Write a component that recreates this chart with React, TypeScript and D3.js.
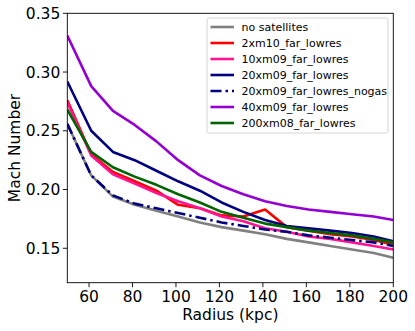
import React from "react";
import * as d3 from "d3";

const radii = [50, 61, 71, 81, 91, 101, 111, 121, 131, 141, 151, 161, 171, 181, 191, 200];

const noSatellites = [0.256, 0.212, 0.194, 0.187, 0.182, 0.177, 0.172, 0.168, 0.165, 0.162, 0.158, 0.155, 0.152, 0.149, 0.146, 0.142];
const m2xm10 = [0.276, 0.230, 0.215, 0.207, 0.199, 0.187, 0.184, 0.178, 0.177, 0.183, 0.168, 0.165, 0.162, 0.160, 0.157, 0.153];
const m10xm09 = [0.274, 0.229, 0.213, 0.205, 0.197, 0.190, 0.184, 0.177, 0.173, 0.167, 0.164, 0.160, 0.158, 0.155, 0.152, 0.149];
const m20xm09 = [0.292, 0.250, 0.232, 0.225, 0.216, 0.207, 0.199, 0.189, 0.181, 0.174, 0.169, 0.167, 0.165, 0.163, 0.160, 0.156];
const m20xm09nogas = [0.256, 0.212, 0.195, 0.188, 0.184, 0.180, 0.176, 0.172, 0.169, 0.166, 0.164, 0.161, 0.159, 0.157, 0.155, 0.152];
const m40xm09 = [0.331, 0.288, 0.267, 0.255, 0.241, 0.225, 0.212, 0.203, 0.196, 0.190, 0.186, 0.183, 0.181, 0.179, 0.177, 0.174];
const m200xm08 = [0.268, 0.232, 0.219, 0.211, 0.204, 0.196, 0.189, 0.181, 0.176, 0.171, 0.168, 0.165, 0.163, 0.161, 0.158, 0.155];

const seriesNames = [
  "no satellites",
  "2xm10_far_lowres",
  "10xm09_far_lowres",
  "20xm09_far_lowres",
  "20xm09_far_lowres_nogas",
  "40xm09_far_lowres",
  "200xm08_far_lowres",
];
const seriesValues = [noSatellites, m2xm10, m10xm09, m20xm09, m20xm09nogas, m40xm09, m200xm08];
const seriesColors = ["#808080", "#ff0000", "#ff1493", "#000080", "#000080", "#9400d3", "#006400"];
const seriesDash = [null, null, null, null, "11,4,2.5,4", null, null];

const xTicks = [60, 80, 100, 120, 140, 160, 180, 200];
const yTicks = [0.15, 0.2, 0.25, 0.3, 0.35];

const W = 415;
const H = 331;
const left = 67.3;
const right = 393.3;
const top = 13.3;
const bottom = 282.7;

export default function App() {
  const x = d3.scaleLinear().domain([50, 200]).range([left, right]);
  const y = d3.scaleLinear().domain([0.1207, 0.35]).range([bottom, top]);
  const line = d3
    .line<[number, number]>()
    .x((d) => x(d[0]))
    .y((d) => y(d[1]));
  const font = "DejaVu Sans, sans-serif";
  const lx = 207;
  const ly = 18;
  return (
    <svg
      width={W}
      height={H}
      style={{ position: "absolute", left: 0, top: 0, background: "#fff" }}
      fontFamily={font}
    >
      <defs>
        <clipPath id="plotclip">
          <rect x={left} y={top} width={right - left} height={bottom - top} />
        </clipPath>
      </defs>
      <rect x={0} y={0} width={W} height={H} fill="#fff" />
      <g clipPath="url(#plotclip)">
        {seriesValues.map((vals, i) => (
          <path
            key={i}
            d={line(radii.map((r, j) => [r, vals[j]] as [number, number])) || ""}
            fill="none"
            stroke={seriesColors[i]}
            strokeWidth={2.6}
            strokeDasharray={seriesDash[i] || undefined}
            strokeLinejoin="round"
          />
        ))}
      </g>
      <rect
        x={left}
        y={top}
        width={right - left}
        height={bottom - top}
        fill="none"
        stroke="#000"
        strokeWidth={0.9}
      />
      {xTicks.map((t) => (
        <g key={t}>
          <line x1={x(t)} x2={x(t)} y1={bottom} y2={bottom + 4.5} stroke="#000" strokeWidth={0.9} />
          <text x={x(t)} y={bottom + 19.5} textAnchor="middle" fontSize={15.5} fill="#000">
            {t}
          </text>
        </g>
      ))}
      {yTicks.map((t) => (
        <g key={t}>
          <line x1={left - 4.5} x2={left} y1={y(t)} y2={y(t)} stroke="#000" strokeWidth={0.9} />
          <text x={left - 7} y={y(t) + 5.6} textAnchor="end" fontSize={15.5} fill="#000">
            {t.toFixed(2)}
          </text>
        </g>
      ))}
      <text x={(left + right) / 2} y={320} textAnchor="middle" fontSize={15.5} fill="#000">
        Radius (kpc)
      </text>
      <text
        transform={`translate(20, ${(top + bottom) / 2}) rotate(-90)`}
        textAnchor="middle"
        fontSize={15.5}
        fill="#000"
      >
        Mach Number
      </text>
      <rect
        x={lx}
        y={ly}
        width={181}
        height={115}
        rx={2}
        fill="#fff"
        fillOpacity={0.8}
        stroke="#d0d0d0"
        strokeWidth={0.9}
      />
      {seriesNames.map((name, i) => {
        const cy = 27 + i * 16;
        return (
          <g key={name}>
            <line
              x1={lx + 3.5}
              x2={lx + 27}
              y1={cy}
              y2={cy}
              stroke={seriesColors[i]}
              strokeWidth={2.6}
              strokeDasharray={seriesDash[i] || undefined}
            />
            <text x={lx + 34.5} y={cy + 4} fontSize={11} fill="#000">
              {name}
            </text>
          </g>
        );
      })}
    </svg>
  );
}
